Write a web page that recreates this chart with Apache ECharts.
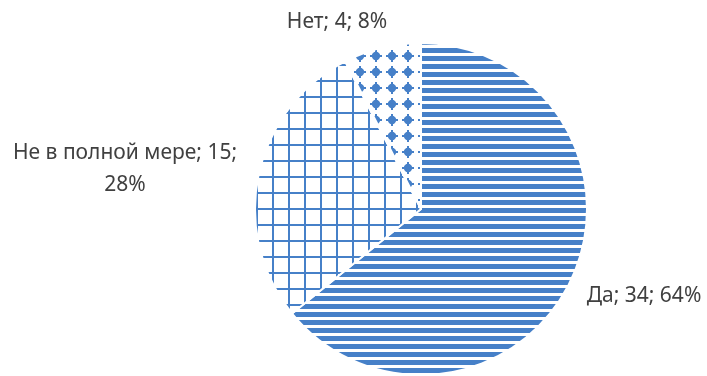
<!DOCTYPE html>
<html><head><meta charset="utf-8">
<script src="https://cdn.jsdelivr.net/npm/echarts@6/dist/echarts.min.js"></script>
<style>html,body{margin:0;padding:0;background:#fff}#c{width:707px;height:376px}</style>
</head><body><div id="c"></div>
<script>
const categories = ['Да', 'Не в полной мере', 'Нет'];
const values = [34, 15, 4];
const percents = ['64%', '28%', '8%'];

const BLUE = '#4680c8';
function mk(w, h, draw) { const c = document.createElement('canvas'); c.width = w; c.height = h; const x = c.getContext('2d'); x.fillStyle = '#fff'; x.fillRect(0,0,w,h); x.fillStyle = BLUE; draw(x); return c; }
const stripes = mk(8, 8, x => { x.fillRect(0, 0, 8, 5); });
const grid = mk(16, 16, x => { x.fillRect(0, 0, 16, 2); x.fillRect(0, 0, 2, 16); });
const dots = mk(16, 16, x => { x.beginPath(); x.arc(8, 8, 4.2, 0, Math.PI*2); x.fill(); x.fillRect(2, 7, 12, 2); x.fillRect(7, 2, 2, 12); });
const patterns = [stripes, grid, dots];

const labelPos = [
  {x: 644, y: 296},
  {x: 125, y: 169},
  {x: 337, y: 22}
];

const chart = echarts.init(document.getElementById('c'));
chart.setOption({
  animation: false,
  series: [{
    type: 'pie',
    center: [421, 209],
    radius: [0, 166],
    startAngle: 90,
    clockwise: true,
    data: categories.map((n, i) => ({
      name: n, value: values[i],
      itemStyle: { color: { image: patterns[i], repeat: 'repeat' }, borderColor: '#fff', borderWidth: 2 },
      label: { formatter: i === 1 ? n + '; ' + values[i] + ';\n' + percents[i] : n + '; ' + values[i] + '; ' + percents[i] }
    })),
    label: { show: true, position: 'outside', color: '#404040', fontSize: 21, fontFamily: 'Noto Sans', lineHeight: 32, align: 'center', overflow: 'none', width: 300 },
    labelLine: { show: false },
    labelLayout: p => ({ x: labelPos[p.dataIndex].x, y: labelPos[p.dataIndex].y, align: 'center', verticalAlign: 'middle' })
  }]
});
</script></body></html>
